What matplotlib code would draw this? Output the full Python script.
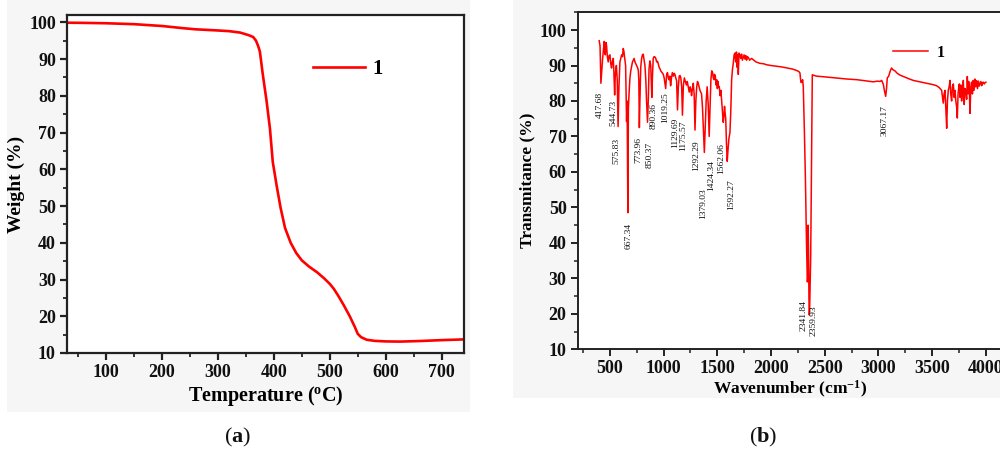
import matplotlib
matplotlib.use("Agg")
import matplotlib.pyplot as plt
from matplotlib.ticker import MultipleLocator
from matplotlib.patches import Rectangle

plt.rcParams['font.family'] = ['Liberation Serif', 'DejaVu Serif']
plt.rcParams['mathtext.fontset'] = 'custom'
plt.rcParams['mathtext.rm'] = 'Liberation Serif'
plt.rcParams['mathtext.bf'] = 'Liberation Serif:bold'
plt.rcParams['mathtext.it'] = 'Liberation Serif:italic'

# ---------------- data: TGA (panel a) ----------------
tga_temp = [30, 60, 100, 150, 200, 238, 260, 298, 320, 340, 355, 363, 368, 372,
            375, 380, 387, 393, 398, 405, 412, 420, 430, 440, 450, 463, 477,
            490, 500, 507, 515, 525, 536, 545, 550, 556, 566, 580, 600, 626,
            660, 700, 740]
tga_weight = [99.9, 99.85, 99.75, 99.5, 99.0, 98.4, 98.1, 97.8, 97.6, 97.2, 96.5,
              96.0, 95.0, 93.5, 92.0, 86.0, 78.5, 71.0, 62.0, 55.5, 49.5, 44.0,
              40.0, 37.2, 35.2, 33.5, 32.0, 30.3, 28.8, 27.5, 25.6, 23.0, 19.9,
              17.0, 15.2, 14.3, 13.6, 13.3, 13.15, 13.1, 13.25, 13.5, 13.7]

# ---------------- data: FTIR (panel b) ----------------
ir_wn = [400, 408, 416, 424, 432, 440, 447, 452, 457, 463,
         469, 476, 484, 492, 500, 508, 515, 522, 531, 537,
         544, 549, 553, 560, 568, 576, 584, 593, 601, 609,
         617, 624, 630, 638, 646, 651, 655, 660, 667, 672,
         678, 686, 694, 703, 710, 717, 725, 733, 740, 748,
         756, 764, 769, 774, 779, 787, 795, 803, 810, 818,
         826, 834, 841, 850, 857, 864, 872, 880, 890, 896,
         903, 911, 919, 927, 935, 943, 950, 958, 967, 975,
         986, 997, 1005, 1012, 1019, 1028, 1036, 1044, 1050, 1058,
         1065, 1073, 1081, 1090, 1098, 1105, 1113, 1121, 1129, 1137,
         1145, 1152, 1160, 1168, 1175, 1184, 1193, 1203, 1212, 1220,
         1229, 1238, 1247, 1254, 1260, 1268, 1276, 1284, 1292, 1300,
         1308, 1315, 1322, 1330, 1338, 1346, 1353, 1362, 1370, 1379,
         1388, 1396, 1405, 1415, 1424, 1432, 1440, 1448, 1456, 1462,
         1468, 1474, 1481, 1488, 1494, 1500, 1506, 1512, 1518, 1526,
         1533, 1540, 1548, 1555, 1562, 1567, 1571, 1578, 1585, 1592,
         1600, 1608, 1617, 1625, 1633, 1641, 1648, 1656, 1664, 1671,
         1678, 1684, 1690, 1695, 1702, 1710, 1718, 1726, 1733, 1741,
         1749, 1757, 1765, 1772, 1780, 1790, 1800, 1819, 1840, 1860,
         1880, 1896, 1930, 1960, 2000, 2050, 2100, 2150, 2200, 2238,
         2258, 2269, 2275, 2280, 2287, 2294, 2300, 2310, 2320, 2330,
         2338, 2341, 2345, 2349, 2353, 2356, 2359, 2364, 2369, 2376,
         2384, 2400, 2424, 2500, 2600, 2703, 2800, 2880, 2952, 2990,
         3014, 3030, 3045, 3055, 3067, 3075, 3082, 3095, 3110, 3122,
         3135, 3153, 3175, 3200, 3240, 3280, 3324, 3370, 3420, 3479,
         3510, 3541, 3565, 3588, 3596, 3603, 3611, 3619, 3627, 3635,
         3642, 3650, 3658, 3666, 3673, 3681, 3689, 3697, 3705, 3712,
         3720, 3727, 3734, 3741, 3748, 3753, 3760, 3767, 3774, 3782,
         3790, 3798, 3806, 3815, 3821, 3827, 3834, 3840, 3846, 3852,
         3860, 3867, 3875, 3882, 3890, 3898, 3906, 3914, 3922, 3930,
         3938, 3945, 3953, 3961, 3969, 3976, 3985, 3993, 4000]
ir_T = [97.0, 95.5, 85.0, 88.5, 92.0, 94.5, 96.8, 94.0, 93.0, 96.5,
        95.5, 92.5, 91.0, 92.8, 93.0, 90.5, 89.3, 91.0, 92.0, 88.0,
        81.7, 86.5, 88.4, 90.0, 86.0, 72.8, 84.0, 91.0, 92.0, 93.0,
        92.5, 94.8, 94.0, 92.0, 90.0, 82.0, 74.2, 80.0, 48.5, 78.0,
        82.0, 86.4, 88.5, 90.0, 91.0, 91.5, 92.0, 91.0, 90.5, 90.0,
        89.5, 88.7, 86.0, 72.5, 80.0, 89.5, 92.0, 93.0, 93.2, 91.5,
        90.0, 86.0, 80.0, 74.0, 80.0, 89.0, 91.3, 90.0, 81.0, 87.0,
        92.0, 92.5, 92.4, 92.0, 91.0, 91.2, 90.5, 89.5, 89.0, 88.4,
        88.0, 87.5, 86.5, 85.0, 83.5, 87.5, 88.0, 86.5, 86.0, 87.0,
        84.3, 86.5, 88.0, 87.0, 87.8, 87.5, 86.5, 85.7, 77.5, 84.0,
        87.0, 87.2, 86.5, 84.0, 76.0, 84.5, 86.5, 85.5, 84.5, 85.5,
        84.0, 82.5, 84.0, 83.0, 81.5, 83.5, 85.0, 82.0, 71.8, 80.0,
        84.0, 85.5, 85.0, 84.0, 83.0, 82.5, 82.0, 78.0, 72.0, 65.5,
        73.0, 80.0, 84.0, 79.0, 70.0, 78.0, 86.0, 88.5, 88.0, 86.5,
        86.0, 87.5, 87.0, 84.5, 86.0, 83.5, 85.5, 84.0, 84.0, 81.5,
        83.0, 80.0, 76.5, 74.0, 76.0, 78.5, 77.0, 75.0, 68.0, 63.0,
        66.5, 69.5, 71.0, 77.0, 86.0, 89.0, 90.5, 93.0, 93.5, 91.0,
        93.8, 89.5, 93.0, 87.5, 93.5, 93.0, 92.0, 93.2, 91.5, 92.3,
        93.0, 91.8, 92.8, 91.5, 92.5, 92.2, 91.5, 92.0, 91.5, 91.0,
        90.8, 90.6, 90.5, 90.2, 90.0, 89.8, 89.6, 89.3, 89.0, 88.6,
        88.3, 87.9, 86.0, 85.2, 85.5, 86.0, 84.0, 72.0, 58.0, 40.0,
        29.0, 30.0, 45.0, 38.0, 24.0, 19.7, 21.0, 28.0, 36.0, 60.0,
        87.4, 87.2, 87.0, 86.8, 86.5, 86.2, 86.0, 85.7, 85.4, 85.6,
        85.5, 85.8, 84.7, 83.0, 81.3, 83.5, 86.5, 87.0, 88.5, 89.3,
        88.8, 88.5, 87.8, 87.3, 86.8, 86.3, 85.8, 85.5, 85.2, 84.8,
        84.6, 84.3, 83.8, 83.0, 81.0, 79.4, 82.0, 83.0, 78.0, 72.3,
        80.0, 83.0, 84.0, 85.8, 82.0, 80.0, 84.0, 84.8, 81.0, 83.0,
        80.0, 78.5, 75.2, 82.0, 84.0, 84.8, 81.0, 84.5, 80.0, 82.5,
        85.8, 79.0, 83.5, 82.3, 80.5, 86.9, 82.0, 85.5, 83.0, 76.5,
        84.0, 85.3, 82.0, 85.8, 83.0, 86.2, 84.0, 85.7, 83.5, 85.6,
        84.2, 84.8, 85.5, 84.3, 85.2, 85.3, 84.8, 85.2, 85.3]

ir_labels = ['417.68', '544.73', '575.83', '667.34', '773.96', '850.37', '890.36',
             '1019.25', '1129.69', '1175.57', '1292.29', '1379.03', '1424.34',
             '1562.06', '1592.27', '2341.84', '2359.93', '3067.17']
# label anchor positions (x in cm-1, y = top of rotated text in %)
ir_label_x = [407, 531, 565, 670, 763, 872, 910, 1012, 1105, 1182, 1307, 1369,
              1447, 1540, 1633, 2300, 2393, 3060]
ir_label_top = [82.6, 80.3, 69.6, 45.7, 69.9, 68.5, 79.5, 82.6, 75.3, 74.4, 69.0,
                55.5, 63.4, 68.2, 57.8, 23.9, 22.5, 78.9]

# ---------------- figure ----------------
fig = plt.figure(figsize=(10.0, 4.54), dpi=100)
bg = '#f6f6f6'
fig.patches.append(Rectangle((0.007, 0.092), 0.463, 0.908, transform=fig.transFigure,
                             facecolor=bg, edgecolor='none', zorder=-10))
fig.patches.append(Rectangle((0.513, 0.123), 0.487, 0.877, transform=fig.transFigure,
                             facecolor=bg, edgecolor='none', zorder=-10))

red = '#ff0000'

def style_axes(ax, spw):
    for s in ax.spines.values():
        s.set_linewidth(spw)
        s.set_color('#222222')
    ax.tick_params(which='major', direction='out', length=5, width=spw, colors='#222222',
                   pad=3)
    ax.tick_params(which='minor', direction='out', length=3, width=spw * 0.8, colors='#222222')
    for lab in ax.get_xticklabels() + ax.get_yticklabels():
        lab.set_fontsize(13)
        lab.set_fontweight('bold')
        lab.set_color('#111111')

# ---- panel a ----
axa = fig.add_axes([0.067, 0.2225, 0.397, 0.7445])
axa.set_facecolor('white')
axa.plot(tga_temp, tga_weight, color=red, lw=1.9, label='1')
axa.set_xlim(30, 740)
axa.set_ylim(10, 102)
axa.xaxis.set_minor_locator(MultipleLocator(50))
axa.yaxis.set_minor_locator(MultipleLocator(5))
axa.set_xticks(range(100, 701, 100))
axa.set_xticklabels([str(v) for v in range(100, 701, 100)])
axa.set_yticks(range(10, 101, 10))
axa.set_yticklabels([str(v) for v in range(10, 101, 10)])
style_axes(axa, 1.6)
axa.set_xlabel(r'Temperature ($^{\mathbf{o}}$C)', fontsize=14.5, fontweight='bold', labelpad=2)
axa.set_ylabel('Weight (%)', fontsize=14, fontweight='bold', labelpad=3)
axa.legend(loc='center left', bbox_to_anchor=(0.62, 0.84), frameon=False,
           borderaxespad=0, borderpad=0, handlelength=2.5, handletextpad=0.35,
           prop={'size': 15, 'weight': 'bold'})

# ---- panel b ----
axb = fig.add_axes([0.5777, 0.2306, 0.4243, 0.7423])
axb.set_facecolor('white')
axb.plot(ir_wn, ir_T, color=red, lw=1.1, label='1')
axb.set_xlim(200, 4150)
axb.set_ylim(10, 105)
axb.xaxis.set_minor_locator(MultipleLocator(250))
axb.yaxis.set_minor_locator(MultipleLocator(5))
axb.set_xticks(range(500, 4001, 500))
axb.set_xticklabels([str(v) for v in range(500, 4001, 500)])
axb.set_yticks(range(10, 101, 10))
axb.set_yticklabels([str(v) for v in range(10, 101, 10)])
style_axes(axb, 1.4)
axb.set_xlabel(r'Wavenumber (cm$^{\mathbf{-1}}$)', fontsize=12.5, fontweight='bold', labelpad=1)
axb.set_ylabel('Transmitance (%)', fontsize=12.5, fontweight='bold', labelpad=3)
axb.legend(loc='center left', bbox_to_anchor=(0.743, 0.879), frameon=False,
           borderaxespad=0, borderpad=0, handlelength=2.2, handletextpad=0.55,
           prop={'size': 11.5, 'weight': 'bold'})
for lab, lx, ly in zip(ir_labels, ir_label_x, ir_label_top):
    axb.text(lx, ly, lab, rotation=90, ha='center', va='top', fontsize=6.8,
             color='#111111')

# panel captions
fig.text(0.238, 0.037, r'($\mathbf{a}$)', ha='center', va='center', fontsize=16,
         color='#111111')
fig.text(0.763, 0.037, r'($\mathbf{b}$)', ha='center', va='center', fontsize=16,
         color='#111111')

fig.savefig('out.png', dpi=100)
